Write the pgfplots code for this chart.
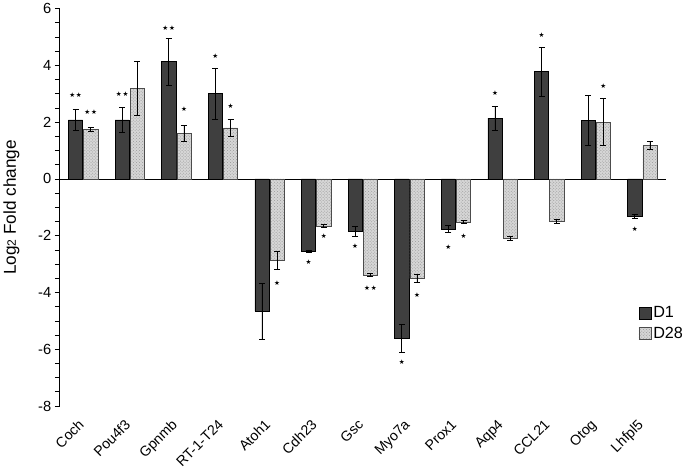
\documentclass[border=0pt]{standalone}
\usepackage{fontspec}
\setmainfont{Liberation Sans}
\newfontfamily\dejavu{DejaVu Sans}
\usepackage{pgfplots}
\pgfplotsset{compat=1.18}
\usetikzlibrary{patterns}
\definecolor{dark}{HTML}{3F3F3F}
\definecolor{light}{HTML}{D6D6D6}
\newcommand{\st}{{\dejavu ★}}
\newcommand{\sst}{{\dejavu ★\kern0.8pt★}}
\begin{document}
\begin{tikzpicture}
\begin{axis}[
  scale only axis, width=599pt, height=393pt,
  xmin=-0.5, xmax=12.5, ymin=-8, ymax=6,
  axis x line*=bottom, axis y line*=left,
  x axis line style={draw=none},
  y axis line style={black, line width=0.7pt},
  xtick={0,...,12},
  xticklabels={Coch,Pou4f3,Gpnmb,RT-1-T24,Atoh1,Cdh23,Gsc,Myo7a,Prox1,Aqp4,CCL21,Otog,Lhfpl5},
  xtick style={draw=none},
  xticklabel style={rotate=45, anchor=north east, font=\fontsize{14}{14}\selectfont, inner sep=1pt, yshift=0pt, xshift=-8pt},
  ytick={-8,-6,...,6},
  minor ytick={-7.5,-7,...,5.5},
  tick align=outside,
  major tick length=5pt, minor tick length=5pt,
  ytick style={black, line width=0.7pt},
  minor tick style={black, line width=0.7pt},
  yticklabel style={font=\fontsize{14.5}{14.5}\selectfont},
  /pgf/number format/assume math mode=true,
  ylabel={Log{\fontsize{12}{12}\selectfont 2} Fold change},
  ylabel style={font=\fontsize{17}{17}\selectfont, at={(axis description cs:-0.080,0.5)}, anchor=center},
  legend style={at={(axis description cs:0.955,0.256)}, anchor=north west, draw=none, fill=none, font=\fontsize{16}{16}\selectfont, row sep=4pt, inner sep=0pt},
  legend cell align=left,
  legend image code/.code={\draw[#1] (0pt,-6pt) rectangle (12pt,6pt);},
  error bars/error bar style={black, line width=0.7pt},
  error bars/error mark options={rotate=90, mark size=3pt, black, line width=0.7pt},
  clip=false,
]
\addplot[black, line width=0.8pt, forget plot] coordinates {(-0.5,0) (12.5,0)};
\addplot[ybar, bar width=14pt, bar shift=0pt, fill=dark, draw=black, line width=0.5pt,
  error bars/.cd, y dir=both, y explicit]
coordinates {
(-0.163,2.08) +- (0,0.36)
(0.837,2.08) +- (0,0.45)
(1.837,4.13) +- (0,0.83)
(2.837,3.01) +- (0,0.90)
(3.837,-4.66) +- (0,0.98)
(4.837,-2.55) +- (0,0.05)
(5.837,-1.84) +- (0,0.17)
(6.837,-5.61) +- (0,0.50)
(7.837,-1.76) +- (0,0.13)
(8.837,2.14) +- (0,0.42)
(9.837,3.78) +- (0,0.87)
(10.837,2.07) +- (0,0.88)
(11.837,-1.33) +- (0,0.07)
};
\addlegendentry{D1}
\addplot[ybar, bar width=14pt, bar shift=0pt, fill=light, draw=black!70, line width=0.5pt,
  postaction={pattern=crosshatch dots, pattern color=gray!80},
  error bars/.cd, y dir=both, y explicit]
coordinates {
(0.163,1.75) +- (0,0.07)
(1.163,3.18) +- (0,0.95)
(2.163,1.61) +- (0,0.29)
(3.163,1.80) +- (0,0.31)
(4.163,-2.88) +- (0,0.32)
(5.163,-1.66) +- (0,0.05)
(6.163,-3.38) +- (0,0.05)
(7.163,-3.50) +- (0,0.14)
(8.163,-1.52) +- (0,0.06)
(9.163,-2.10) +- (0,0.08)
(10.163,-1.48) +- (0,0.07)
(11.163,2.00) +- (0,0.83)
(12.163,1.18) +- (0,0.13)
};
\addlegendentry{D28}
\addplot[draw=none, mark=none, forget plot, nodes near coords, point meta=explicit symbolic,
  every node near coord/.style={anchor=center, inner sep=0pt, font=\fontsize{6.5}{6.5}\selectfont}]
coordinates {
(-0.163,2.95) [\sst]
(0.163,2.34) [\sst]
(0.837,2.97) [\sst]
(1.837,5.31) [\sst]
(2.163,2.44) [\st]
(2.837,4.34) [\st]
(3.163,2.58) [\st]
(4.163,-3.68) [\st]
(4.837,-2.93) [\st]
(5.163,-2.02) [\st]
(5.837,-2.37) [\st]
(6.163,-3.86) [\sst]
(6.837,-6.47) [\st]
(7.163,-4.09) [\st]
(7.837,-2.40) [\st]
(8.163,-2.02) [\st]
(8.837,3.03) [\st]
(9.837,5.08) [\st]
(11.163,3.25) [\st]
(11.837,-1.78) [\st]
};
\end{axis}
\end{tikzpicture}
\end{document}
